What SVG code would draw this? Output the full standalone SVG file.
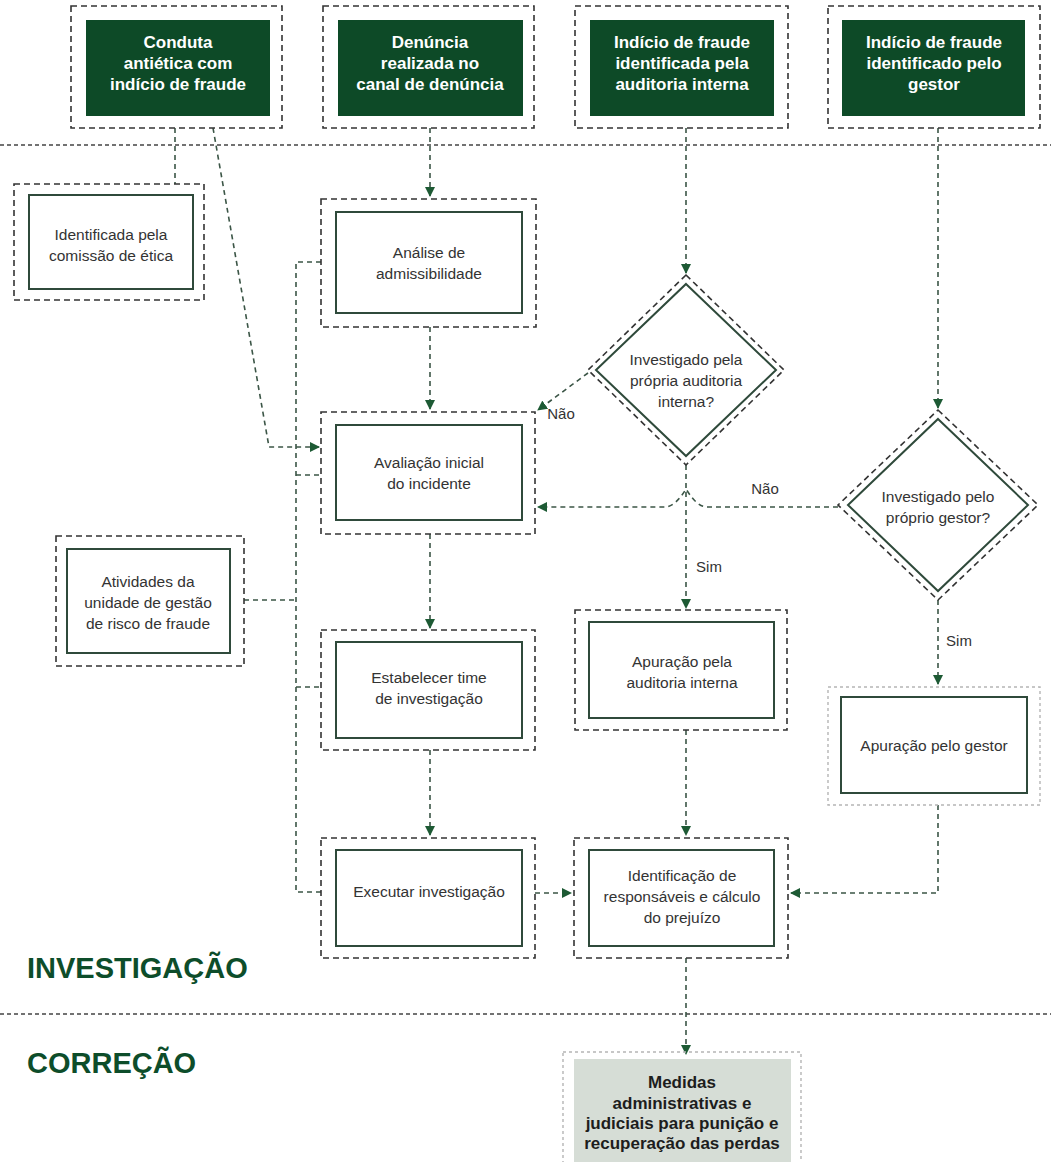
<svg xmlns="http://www.w3.org/2000/svg" width="1051" height="1162" viewBox="0 0 1051 1162">
<defs>
<style>
.outer{fill:none;stroke:#333;stroke-width:1.6;stroke-dasharray:6 4}
.outerL{fill:none;stroke:#b5b5b5;stroke-width:1.4;stroke-dasharray:3 3}
.inner{fill:#fff;stroke:#2f4a3b;stroke-width:2}
.dark{fill:#0d4a27}
.fill{fill:#d6ddd6}
.conn{fill:none;stroke:#3b5546;stroke-width:1.6;stroke-dasharray:5 4}
.div{fill:none;stroke:#444;stroke-width:1.6;stroke-dasharray:4 3}
.t{font-family:"Liberation Sans",Arial,sans-serif;font-size:15.5px;fill:#333;text-anchor:middle;dominant-baseline:central}
.w{font-family:"Liberation Sans",Arial,sans-serif;font-size:17px;font-weight:bold;fill:#fff;text-anchor:middle;dominant-baseline:central}
.b{font-family:"Liberation Sans",Arial,sans-serif;font-size:17px;font-weight:bold;fill:#1d1d1d;text-anchor:middle;dominant-baseline:central}
.h{font-family:"Liberation Sans",Arial,sans-serif;font-size:29px;font-weight:bold;fill:#0d4d2a}
.lab{font-family:"Liberation Sans",Arial,sans-serif;font-size:15px;fill:#333;text-anchor:middle;dominant-baseline:central}
</style>
<marker id="ah" markerWidth="10" markerHeight="10" refX="9" refY="5" orient="auto" markerUnits="userSpaceOnUse">
<path d="M0,0 L10,5 L0,10 z" fill="#1d5a34"/>
</marker>
</defs>
<rect width="1051" height="1162" fill="#fff"/>

<g id="dividers">
<line class="div" x1="0" y1="145" x2="1051" y2="145"/>
<line class="div" x1="0" y1="1014" x2="1051" y2="1014"/>
</g>

<g id="titles">
<text class="h" x="27" y="978">INVESTIGAÇÃO</text>
<text class="h" x="27" y="1073">CORREÇÃO</text>
</g>

<g id="connectors">
<polyline class="conn" points="175,128 175,184"/>
<polyline class="conn" points="213,128 269,447 319,447" marker-end="url(#ah)"/>
<line class="conn" x1="430" y1="128" x2="430" y2="196" marker-end="url(#ah)"/>
<line class="conn" x1="686" y1="128" x2="686" y2="273" marker-end="url(#ah)"/>
<line class="conn" x1="938" y1="128" x2="938" y2="408" marker-end="url(#ah)"/>
<polyline class="conn" points="321,262 296,262 296,892 321,892"/>
<line class="conn" x1="296" y1="475" x2="321" y2="475"/>
<line class="conn" x1="296" y1="687" x2="321" y2="687"/>
<line class="conn" x1="244" y1="600" x2="296" y2="600"/>
<line class="conn" x1="430" y1="327" x2="430" y2="409" marker-end="url(#ah)"/>
<line class="conn" x1="430" y1="534" x2="430" y2="628" marker-end="url(#ah)"/>
<line class="conn" x1="430" y1="750" x2="430" y2="835" marker-end="url(#ah)"/>
<line class="conn" x1="588" y1="373" x2="538" y2="410" marker-end="url(#ah)"/>
<path class="conn" d="M838,507 L707,507 Q697,507 686,489 Q675,507 665,507 L538,507" marker-end="url(#ah)"/>
<line class="conn" x1="686" y1="465" x2="686" y2="608" marker-end="url(#ah)"/>
<line class="conn" x1="938" y1="600" x2="938" y2="684" marker-end="url(#ah)"/>
<line class="conn" x1="686" y1="730" x2="686" y2="835" marker-end="url(#ah)"/>
<line class="conn" x1="535" y1="893" x2="571" y2="893" marker-end="url(#ah)"/>
<polyline class="conn" points="938,805 938,893 791,893" marker-end="url(#ah)"/>
<line class="conn" x1="686" y1="958" x2="686" y2="1054" marker-end="url(#ah)"/>
<text class="lab" x="561" y="413">Não</text>
<text class="lab" x="765" y="488">Não</text>
<text class="lab" x="709" y="566">Sim</text>
<text class="lab" x="959" y="640">Sim</text>
</g>

<g id="n-conduta">
<rect class="outer" x="71" y="6" width="211" height="122"/>
<rect class="dark" x="86" y="20" width="184" height="96"/>
<text class="w" x="178" y="42">Conduta</text>
<text class="w" x="178" y="63">antiética com</text>
<text class="w" x="178" y="84">indício de fraude</text>
</g>
<g id="n-denuncia">
<rect class="outer" x="323" y="6" width="211" height="122"/>
<rect class="dark" x="338" y="20" width="185" height="96"/>
<text class="w" x="430" y="42">Denúncia</text>
<text class="w" x="430" y="63">realizada no</text>
<text class="w" x="430" y="84">canal de denúncia</text>
</g>
<g id="n-auditoria">
<rect class="outer" x="575" y="6" width="213" height="122"/>
<rect class="dark" x="590" y="20" width="184" height="96"/>
<text class="w" x="682" y="42">Indício de fraude</text>
<text class="w" x="682" y="63">identificada pela</text>
<text class="w" x="682" y="84">auditoria interna</text>
</g>
<g id="n-gestor">
<rect class="outer" x="828" y="6" width="212" height="122"/>
<rect class="dark" x="842" y="20" width="183" height="96"/>
<text class="w" x="934" y="42">Indício de fraude</text>
<text class="w" x="934" y="63">identificado pelo</text>
<text class="w" x="934" y="84">gestor</text>
</g>

<g id="n-etica">
<rect class="outer" x="14" y="184" width="190" height="116"/>
<rect class="inner" x="29" y="195" width="164" height="94"/>
<text class="t" x="111" y="234">Identificada pela</text>
<text class="t" x="111" y="255">comissão de ética</text>
</g>

<g id="n-analise">
<rect class="outer" x="321" y="199" width="215" height="128"/>
<rect class="inner" x="336" y="212" width="186" height="101"/>
<text class="t" x="429" y="252">Análise de</text>
<text class="t" x="429" y="273">admissibilidade</text>
</g>

<g id="n-avaliacao">
<rect class="outer" x="321" y="412" width="214" height="122"/>
<rect class="inner" x="336" y="425" width="186" height="95"/>
<text class="t" x="429" y="462">Avaliação inicial</text>
<text class="t" x="429" y="483">do incidente</text>
</g>

<g id="n-diamond1">
<polygon class="outer" points="686,275 784,370 686,465 588,370"/>
<polygon class="inner" points="686,284 776,370 686,456 596,370"/>
<text class="t" x="686" y="359">Investigado pela</text>
<text class="t" x="686" y="380">própria auditoria</text>
<text class="t" x="686" y="401">interna?</text>
</g>

<g id="n-diamond2">
<polygon class="outer" points="938,410 1038,505 938,600 838,505"/>
<polygon class="inner" points="938,419 1028,505 938,591 848,505"/>
<text class="t" x="938" y="496">Investigado pelo</text>
<text class="t" x="938" y="517">próprio gestor?</text>
</g>

<g id="n-atividades">
<rect class="outer" x="56" y="536" width="188" height="130"/>
<rect class="inner" x="67" y="549" width="163" height="104"/>
<text class="t" x="148" y="581">Atividades da</text>
<text class="t" x="148" y="602">unidade de gestão</text>
<text class="t" x="148" y="623">de risco de fraude</text>
</g>

<g id="n-estabelecer">
<rect class="outer" x="321" y="630" width="214" height="120"/>
<rect class="inner" x="336" y="642" width="186" height="96"/>
<text class="t" x="429" y="677">Estabelecer time</text>
<text class="t" x="429" y="698">de investigação</text>
</g>

<g id="n-apuracao-aud">
<rect class="outer" x="575" y="610" width="212" height="120"/>
<rect class="inner" x="589" y="622" width="185" height="96"/>
<text class="t" x="682" y="661">Apuração pela</text>
<text class="t" x="682" y="682">auditoria interna</text>
</g>

<g id="n-apuracao-gestor">
<rect class="outerL" x="828" y="687" width="212" height="118"/>
<rect class="inner" x="841" y="697" width="186" height="96"/>
<text class="t" x="934" y="745">Apuração pelo gestor</text>
</g>

<g id="n-executar">
<rect class="outer" x="321" y="838" width="214" height="120"/>
<rect class="inner" x="336" y="850" width="186" height="96"/>
<text class="t" x="429" y="891">Executar investigação</text>
</g>

<g id="n-identificacao">
<rect class="outer" x="574" y="838" width="214" height="120"/>
<rect class="inner" x="589" y="850" width="185" height="96"/>
<text class="t" x="682" y="875">Identificação de</text>
<text class="t" x="682" y="896">responsáveis e cálculo</text>
<text class="t" x="682" y="917">do prejuízo</text>
</g>

<g id="n-medidas">
<rect class="outerL" x="563" y="1052" width="238" height="112"/>
<rect class="fill" x="574" y="1059" width="217" height="103"/>
<text class="b" x="682" y="1082">Medidas</text>
<text class="b" x="682" y="1103">administrativas e</text>
<text class="b" x="682" y="1123">judiciais para punição e</text>
<text class="b" x="682" y="1143">recuperação das perdas</text>
</g>
</svg>
